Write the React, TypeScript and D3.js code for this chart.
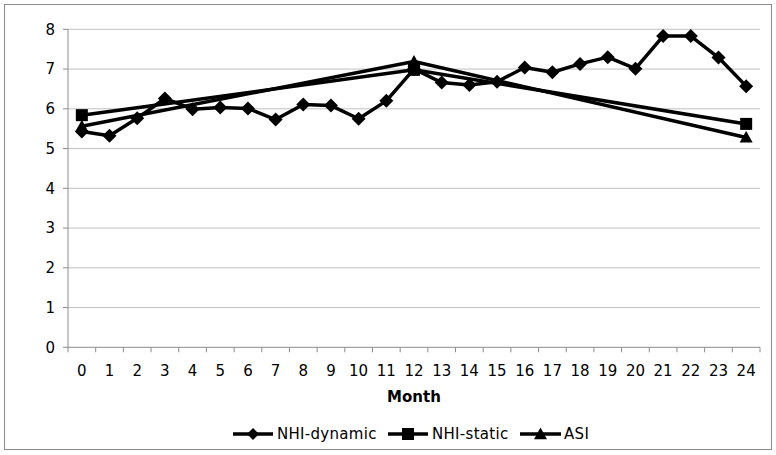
import React from "react";
import * as d3 from "d3";

const months: string[] = ["0","1","2","3","4","5","6","7","8","9","10","11","12","13","14","15","16","17","18","19","20","21","22","23","24"];
const nhiDynamic: (number | null)[] = [5.43,5.32,5.76,6.26,5.99,6.03,6.01,5.73,6.11,6.08,5.75,6.2,7.0,6.66,6.6,6.68,7.04,6.92,7.13,7.3,7.01,7.83,7.83,7.29,6.57];
const nhiStatic: (number | null)[] = [5.84,null,null,null,null,null,null,null,null,null,null,null,6.98,null,null,null,null,null,null,null,null,null,null,null,5.62];
const asi: (number | null)[] = [5.56,null,null,null,null,null,null,null,null,null,null,null,7.19,null,null,null,null,null,null,null,null,null,null,null,5.28];
const yTicks: number[] = [0,1,2,3,4,5,6,7,8];
const seriesNames: string[] = ["NHI-dynamic","NHI-static","ASI"];

const W = 776, H = 455;
const L = 68, R = 760, T = 29.3, B = 347.3;
const FONT = "DejaVu Sans, Verdana, sans-serif";

function Marker({ kind, x, y, legend }: { kind: string; x: number; y: number; legend?: boolean }) {
  if (kind === "diamond") {
    const s = legend ? 6 : 7;
    return <path d={`M${x},${y - s}L${x + s},${y}L${x},${y + s}L${x - s},${y}Z`} fill="#000" />;
  }
  if (kind === "square") {
    const s = 6;
    return <rect x={x - s} y={y - s} width={2 * s} height={2 * s} fill="#000" />;
  }
  const s = 6.5;
  return <path d={`M${x},${y - s}L${x + s},${y + s * 0.8}L${x - s},${y + s * 0.8}Z`} fill="#000" />;
}

export default function App() {
  const x = d3.scaleBand<string>().domain(months).range([L, R]).padding(0);
  const y = d3.scaleLinear().domain([0, 8]).range([B, T]);
  const cx = (i: number) => (x(months[i]) as number) + x.bandwidth() / 2;

  const series = [
    { name: seriesNames[0], data: nhiDynamic, marker: "diamond" },
    { name: seriesNames[1], data: nhiStatic, marker: "square" },
    { name: seriesNames[2], data: asi, marker: "triangle" },
  ];

  const line = (data: (number | null)[]) => {
    const pts = data.map((v, i) => ({ v, i })).filter((p) => p.v !== null) as { v: number; i: number }[];
    return d3.line<{ v: number; i: number }>().x((p) => cx(p.i)).y((p) => y(p.v))(pts) || "";
  };

  const boundaries = months.map((m) => x(m) as number).concat([R]);

  const legendItems = [
    { name: seriesNames[0], marker: "diamond", x0: 233, x1: 273, tx: 277 },
    { name: seriesNames[1], marker: "square", x0: 388, x1: 428, tx: 432 },
    { name: seriesNames[2], marker: "triangle", x0: 520, x1: 561, tx: 564 },
  ];
  const ly = 434;

  return (
    <svg width={W} height={H} style={{ position: "absolute", left: 0, top: 0, display: "block", background: "#fff" }} fontFamily={FONT}>
      <rect x={4.5} y={4.5} width={767} height={445} fill="#fff" stroke="#8c8c8c" strokeWidth={1} />
      {yTicks.map((t) => (
        <g key={t}>
          {t > 0 && <line x1={L} x2={R} y1={y(t)} y2={y(t)} stroke="#c0c0c0" strokeWidth={1} />}
          <line x1={L - 5} x2={L} y1={y(t)} y2={y(t)} stroke="#8c8c8c" />
          <text x={55} y={y(t)} dy="0.36em" textAnchor="end" fontSize={15} fill="#000">{t}</text>
        </g>
      ))}
      <line x1={L} x2={L} y1={T} y2={B} stroke="#8c8c8c" />
      <line x1={L} x2={R} y1={B} y2={B} stroke="#8c8c8c" />
      {boundaries.map((bx, i) => (
        <line key={i} x1={bx} x2={bx} y1={B} y2={B + 5} stroke="#8c8c8c" />
      ))}
      {months.map((m, i) => (
        <text key={m} x={cx(i)} y={371} dy="0.36em" textAnchor="middle" fontSize={15} fill="#000">{m}</text>
      ))}
      <text x={414} y={397} dy="0.36em" textAnchor="middle" fontSize={15} fontWeight="bold" fill="#000">Month</text>
      {series.map((s) => (
        <g key={s.name}>
          <path d={line(s.data)} fill="none" stroke="#000" strokeWidth={3.5} strokeLinejoin="round" />
          {s.data.map((v, i) => (v === null ? null : <Marker key={i} kind={s.marker} x={cx(i)} y={y(v)} />))}
        </g>
      ))}
      {legendItems.map((it) => (
        <g key={it.name}>
          <line x1={it.x0} x2={it.x1} y1={ly} y2={ly} stroke="#000" strokeWidth={3.5} />
          <Marker kind={it.marker} x={(it.x0 + it.x1) / 2} y={ly} legend />
          <text x={it.tx} y={ly} dy="0.36em" fontSize={15} letterSpacing={0.3} fill="#000">{it.name}</text>
        </g>
      ))}
    </svg>
  );
}
